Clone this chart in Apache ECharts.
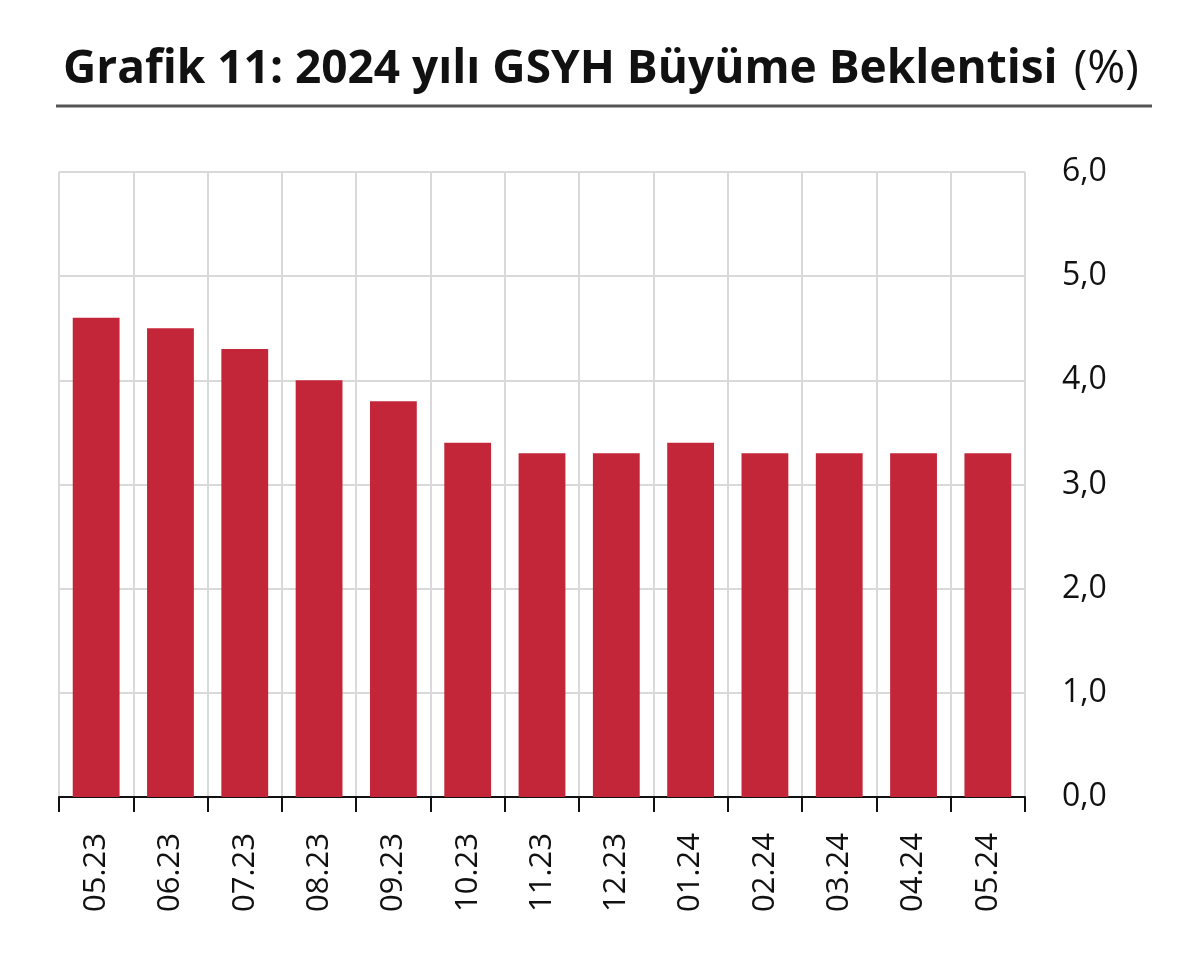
<!DOCTYPE html>
<html><head><meta charset="utf-8">
<script src="https://cdn.jsdelivr.net/npm/echarts@6/dist/echarts.min.js"></script>
<style>html,body{margin:0;padding:0;background:#fff}#c{width:1200px;height:979px}</style>
</head><body><div id="c"></div>
<script>
const categories = ['05.23','06.23','07.23','08.23','09.23','10.23','11.23','12.23','01.24','02.24','03.24','04.24','05.24'];
const values = [4.6, 4.5, 4.3, 4.0, 3.8, 3.4, 3.3, 3.3, 3.4, 3.3, 3.3, 3.3, 3.3];
const titleBold = 'Grafik 11: 2024 yılı GSYH Büyüme Beklentisi';
const titleUnit = '(%)';
const FONT = '"Open Sans", "Noto Sans", sans-serif';
const chart = echarts.init(document.getElementById('c'), null, {renderer:'canvas'});
chart.setOption({
  animation: false,
  backgroundColor: '#fff',
  title: {
    text: '{b|' + titleBold + '}{n|' + titleUnit + '}',
    left: 58, top: 42,
    textStyle: { rich: {
      b: { fontFamily: FONT, fontWeight: 'bold', fontSize: 46, color: '#111' },
      n: { fontFamily: FONT, fontWeight: 'normal', fontSize: 46, color: '#111', padding: [0, 0, 0, 16] }
    }}
  },
  graphic: [{ type: 'line', shape: { x1: 56, y1: 106, x2: 1152, y2: 106 }, style: { stroke: '#555', lineWidth: 3 } }],
  grid: { left: 59, right: 175, top: 172, bottom: 182 },
  xAxis: {
    type: 'category', data: categories, boundaryGap: true,
    axisLine: { show: true, lineStyle: { color: '#111', width: 2 } },
    axisTick: { show: true, length: 15, alignWithLabel: false, lineStyle: { color: '#111', width: 2 } },
    splitLine: { show: true, lineStyle: { color: '#d9d9d9', width: 2 } },
    axisLabel: { rotate: 90, margin: 36, fontFamily: FONT, fontSize: 31, color: '#111' }
  },
  yAxis: {
    type: 'value', position: 'right', min: 0, max: 6, interval: 1,
    axisLine: { show: false }, axisTick: { show: false },
    splitLine: { show: true, lineStyle: { color: '#d9d9d9', width: 2 } },
    axisLabel: { margin: 37, fontFamily: FONT, fontSize: 32, color: '#111',
      formatter: v => v.toFixed(1).replace('.', ',') }
  },
  series: [{ type: 'bar', data: values, barWidth: '63%', itemStyle: { color: '#c32638' } }]
});
</script></body></html>
